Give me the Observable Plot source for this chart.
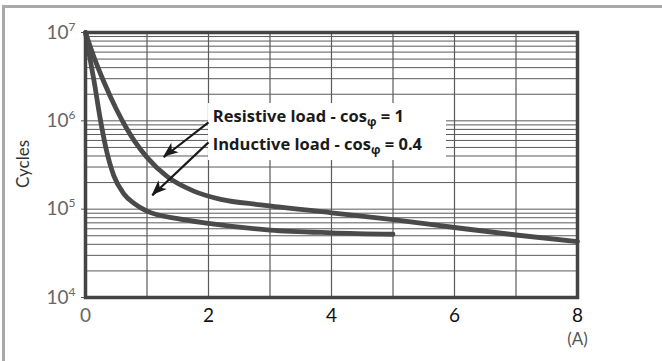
<!DOCTYPE html>
<html>
<head>
<meta charset="utf-8">
<script src="https://cdn.jsdelivr.net/npm/d3@7"></script>
<script src="https://cdn.jsdelivr.net/npm/@observablehq/plot@0.6"></script>
<style>
  html, body { margin: 0; padding: 0; background: #fff; }
  #wrap { position: relative; width: 662px; height: 361px; overflow: hidden; }
  #border { position: absolute; left: 2px; top: 5px; width: 680px; height: 380px;
            border-left: 3px solid #a9a9a9; border-top: 3px solid #a9a9a9; pointer-events: none; }
</style>
</head>
<body>
<div id="wrap"><div id="border"></div></div>
<script>
// ---- data ----
const xTicks = [0, 2, 4, 6, 8];
const yTicks = [1e4, 1e5, 1e6, 1e7];
const yTickLabels = ["10^4", "10^5", "10^6", "10^7"];

const resistiveX = [0, 0.1, 0.3, 0.5, 0.66, 0.8, 1.0, 1.33, 1.76, 2.2, 2.85, 4, 5, 6, 7, 8];
const resistiveY = [1e7, 6.2e6, 2.75e6, 1.36e6, 8.4e5, 5.85e5, 3.86e5, 2.33e5, 1.6e5, 1.29e5, 1.12e5, 9.1e4, 7.6e4, 6.2e4, 5.1e4, 4.3e4];

const inductiveX = [0, 0.07, 0.14, 0.24, 0.33, 0.46, 0.62, 0.8, 1.0, 1.5, 2, 3, 4, 5];
const inductiveY = [1e7, 5.2e6, 2.8e6, 1.05e6, 5.0e5, 2.4e5, 1.5e5, 1.15e5, 9.5e4, 7.8e4, 6.9e4, 5.8e4, 5.4e4, 5.2e4];

const labelTexts = ["Resistive load - cos_φ = 1", "Inductive load - cos_φ = 0.4"];
const labelX = [2.07, 2.07];
const labelY = [1.12e6, 5.4e5];

const arrowFromX = [2.0, 2.0];
const arrowFromY = [9.6e5, 5.7e5];
const arrowToX = [1.27, 1.085];
const arrowToY = [3.87e5, 1.43e5];

const boxX = [2.0, 5.87];
const boxY = [3.55e5, 1.57e6];

// ---- derived tables ----
const resistive = resistiveX.map((x, i) => ({x, y: resistiveY[i]}));
const inductive = inductiveX.map((x, i) => ({x, y: inductiveY[i]}));
const labels = labelTexts.map((t, i) => ({t, x: labelX[i], y: labelY[i]}));
const arrows = arrowFromX.map((x1, i) => ({x1, y1: arrowFromY[i], x2: arrowToX[i], y2: arrowToY[i]}));
const vGrid = d3.range(0, 9);
const hGrid = [];
for (const d of [1e4, 1e5, 1e6]) for (let k = 1; k <= 9; k++) hGrid.push(d * k);
hGrid.push(1e7);

const curveColor = "#4a4a4a";
const arrowColor = "#1a1a1a";

const chart = Plot.plot({
  width: 662,
  height: 361,
  marginTop: 32,
  marginBottom: 64,
  marginLeft: 85,
  marginRight: 85,
  style: {fontFamily: "Lato, 'DejaVu Sans', sans-serif", fontSize: "16px", color: "#555", background: "transparent"},
  x: {domain: [0, 8], ticks: xTicks, tickSize: 0, tickPadding: 11, label: null,
      tickFormat: d => String(d)},
  y: {type: "log", domain: [1e4, 1e7], ticks: yTicks, tickSize: 4, tickPadding: 6, label: null,
      tickFormat: d => yTickLabels[yTicks.indexOf(d)]},
  marks: [
    Plot.ruleY(hGrid, {stroke: "#5a5a5a", strokeWidth: 1}),
    Plot.ruleX(vGrid, {stroke: "#5a5a5a", strokeWidth: 1.2}),
    Plot.rect([0], {x1: () => boxX[0], x2: () => boxX[1], y1: () => boxY[0], y2: () => boxY[1], fill: "white"}),
    Plot.line(resistive, {x: "x", y: "y", stroke: curveColor, strokeWidth: 4.8, curve: "monotone-x"}),
    Plot.line(inductive, {x: "x", y: "y", stroke: curveColor, strokeWidth: 4.8, curve: "monotone-x"}),
    Plot.link(arrows, {x1: "x1", y1: "y1", x2: "x2", y2: "y2", stroke: arrowColor, strokeWidth: 2.2}),
    Plot.text(labels, {x: "x", y: "y", text: "t", textAnchor: "start", fill: "#1a1a1a",
      fontFamily: "'Open Sans', sans-serif", fontWeight: "bold", fontSize: 16.5}),
    Plot.text(["Cycles"], {frameAnchor: "left", rotate: -90, dx: -62, dy: 23, fill: "#333", fontSize: 17,
      fontFamily: "Lato, sans-serif"}),
    Plot.text(["(A)"], {x: () => 8, frameAnchor: "bottom", dy: 47, fill: "#555", fontSize: 17,
      fontFamily: "Lato, sans-serif"}),
    Plot.frame({stroke: "#444", strokeWidth: 3.5})
  ]
});

const svg = d3.select(chart);
// filled arrowheads placed with the chart's own scales
const sx = chart.scale("x"), sy = chart.scale("y");
const heads = svg.append("g").attr("fill", arrowColor);
for (const a of arrows) {
  const x1 = sx.apply(a.x1), y1 = sy.apply(a.y1), x2 = sx.apply(a.x2), y2 = sy.apply(a.y2);
  const ang = Math.atan2(y2 - y1, x2 - x1);
  const L = 15, W = 6, N = 11;
  const ux = Math.cos(ang), uy = Math.sin(ang), px = -uy, py = ux;
  const pts = [
    [x2, y2],
    [x2 - L * ux + W * px, y2 - L * uy + W * py],
    [x2 - N * ux, y2 - N * uy],
    [x2 - L * ux - W * px, y2 - L * uy - W * py]
  ];
  heads.append("path").attr("d", "M" + pts.map(p => p.join(",")).join("L") + "Z");
}
// subscript phi in labels
svg.selectAll("text").each(function () {
  const el = d3.select(this);
  if (this.children.length === 0 && this.textContent.includes("_φ")) {
    const [a, b] = this.textContent.split("_φ");
    el.text(null);
    el.append("tspan").text(a);
    el.append("tspan").attr("dy", 4.5).attr("font-size", 12).text("φ");
    el.append("tspan").attr("dy", -4.5).text(b);
  }
});
// superscript exponents in y tick labels
svg.selectAll("text").each(function () {
  const t = this.textContent;
  const el = d3.select(this);
  if (this.children.length === 0 && /^10\^\d$/.test(t)) {
    el.text(null);
    el.attr("font-size", 19).attr("fill", "#666");
    el.append("tspan").text("10");
    el.append("tspan").attr("dy", -8).attr("font-size", 12).text(t.slice(3));
  }
});
svg.selectAll("text").each(function () {
  const t = this.textContent;
  if (["2", "4", "6", "8"].includes(t)) d3.select(this).attr("fill", "#111").attr("font-size", 19);
  if (t === "0") d3.select(this).attr("fill", "#666").attr("font-size", 19);
});

document.getElementById("wrap").appendChild(chart);
</script>
</body>
</html>
